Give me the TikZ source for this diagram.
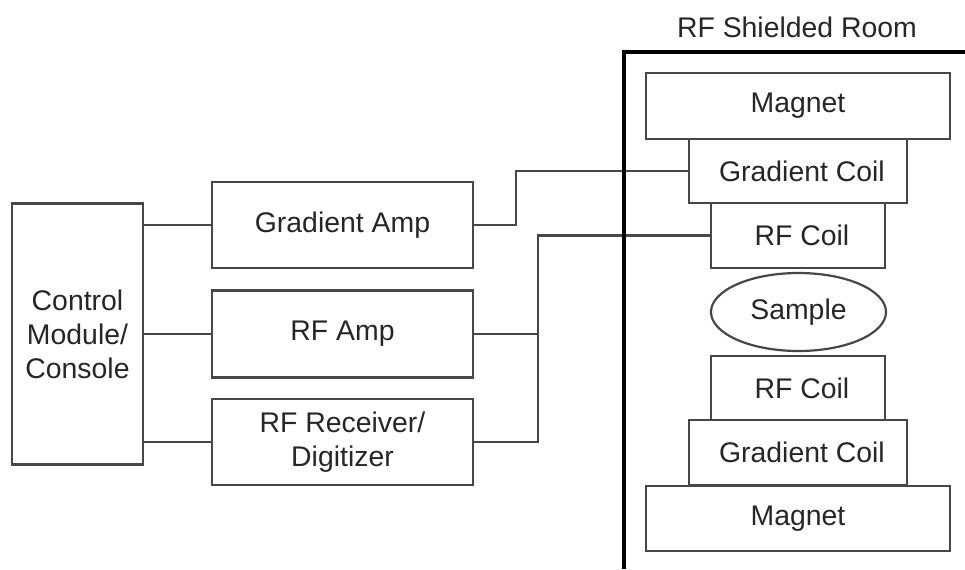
\documentclass[tikz,border=0pt]{standalone}
\usepackage{fontspec}
\setmainfont{Liberation Sans}
\usetikzlibrary{shapes.geometric}
\tikzset{
  box/.style 2 args={draw=black!72, line width=1.1pt, text=black!85, align=center,
    inner sep=0pt, minimum width=#1*0.5pt, minimum height=#2*0.5pt,
    font=\fontsize{14.2}{17}\selectfont},
  lbl/.style={text=black!85, font=\fontsize{14.2}{17}\selectfont},
  wire/.style={draw=black!72, line width=1.1pt},
  wall/.style={draw=black, line width=2.3pt},
}

\begin{document}
\begin{tikzpicture}[x=0.5pt,y=-0.5pt]
  \useasboundingbox (0,0) rectangle (965,569);
  \path
    (77.5,334) node[box={131}{261}] (ctrl){Control\\Module/\\Console}
    (342.5,225) node[box={261}{86}] (gamp){Gradient Amp}
    (342.5,334) node[box={261}{87}] (rfamp){RF Amp}
    (342.5,442) node[box={261}{86}] (rfrx){RF Receiver/\\Digitizer}
    (797,27) node[lbl] (roomlbl){RF Shielded Room}
    (798,106) node[box={304}{66}] (magA){Magnet}
    (798,171) node[box={218}{64}] (gcoilA){\ Gradient Coil}
    (798,235.5) node[box={174}{65}] (rfcoilA){\ RF Coil}
    (798.5,312) node[box={175}{78},ellipse] (sample){Sample}
    (798,388) node[box={174}{64}] (rfcoilB){\ RF Coil}
    (798,452.5) node[box={218}{65}] (gcoilB){\ Gradient Coil}
    (798,518.5) node[box={304}{65}] (magB){Magnet};
  \coordinate (gbend) at (516,171);
  \coordinate (rfbend) at (538,235.5);
  \begin{scope}[wire]
    \draw (ctrl.east |- gamp.west) to (gamp.west);
    \draw (ctrl.east |- rfamp.west) to (rfamp.west);
    \draw (ctrl.east |- rfrx.west) to (rfrx.west);
    \draw (gamp.east) -| (gbend) to (gcoilA.west);
    \draw (rfrx.east) -| (rfbend) to (rfcoilA.west);
    \draw (rfamp.east) to (rfamp.east -| rfbend);
  \end{scope}
  % shielded room wall
  \draw[wall] (624,569) -- (624,52) -- (965,52);
\end{tikzpicture}
\end{document}
